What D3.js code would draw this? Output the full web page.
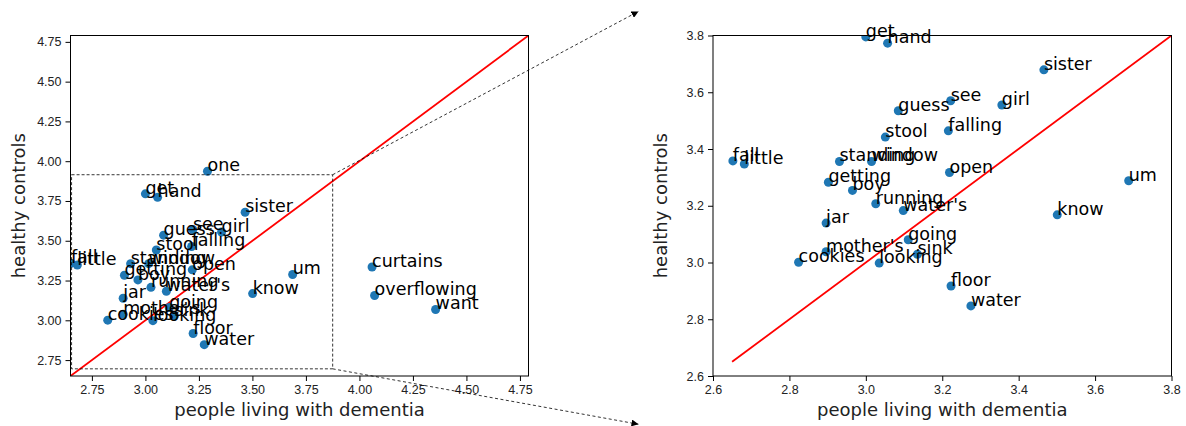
<!DOCTYPE html>
<html>
<head>
<meta charset="utf-8">
<script src="https://cdn.jsdelivr.net/npm/d3@7"></script>
<style>
	body { margin: 0; background: #fff; }
	svg { display: block; font-family: 'DejaVu Sans', sans-serif; }
	.tick text { font-size: 12.5px; fill: #222; }
</style>
</head>
<body>
<svg id="svg"></svg>
<script>
	'use strict';

	// word frequencies: people living with dementia (x) vs healthy controls (y)
	var words = ['get', 'hand', 'one', 'sister', 'see', 'girl', 'guess', 'stool', 'falling',
		'fall', 'little', 'standing', 'window', 'getting', 'boy', 'open', 'running', 'water\'s',
		'um', 'know', 'jar', 'going', 'mother\'s', 'sink', 'cookies', 'looking', 'floor', 'water',
		'curtains', 'overflowing', 'want'];
	var dementia = [3.000, 3.057, 3.290, 3.466, 3.222, 3.356, 3.085, 3.051, 3.216,
		2.652, 2.682, 2.931, 3.015, 2.902, 2.965, 3.219, 3.026, 3.098,
		3.688, 3.501, 2.896, 3.111, 2.896, 3.135, 2.824, 3.035, 3.223, 3.275,
		4.059, 4.071, 4.356];
	var controls = [3.795, 3.773, 3.937, 3.679, 3.570, 3.555, 3.535, 3.442, 3.464,
		3.358, 3.347, 3.356, 3.356, 3.283, 3.254, 3.317, 3.207, 3.183,
		3.288, 3.168, 3.139, 3.080, 3.038, 3.029, 3.001, 2.998, 2.917, 2.847,
		3.335, 3.156, 3.068];

	var leftTicks = [2.75, 3.00, 3.25, 3.50, 3.75, 4.00, 4.25, 4.50, 4.75];
	var rightTicks = [2.6, 2.8, 3.0, 3.2, 3.4, 3.6, 3.8];
	var diagonal = [2.65, 4.79];
	// zoom box drawn on the left plot and where its connectors point
	var zoomBoxX = [2.655, 3.875];
	var zoomBoxY = [2.695, 3.915];
	var arrowTipX = 2.405;
	var arrowTipY = [3.885, 2.43];

	var data = words.map(function (w, i) {
		return {word: w, x: dementia[i], y: controls[i]};
	});

	var svg = d3.select('#svg')
		.attr('width', 1186)
		.attr('height', 426);

	var defs = svg.append('defs');
	defs.append('marker')
		.attr('id', 'head')
		.attr('viewBox', '0 0 10 10')
		.attr('refX', 10)
		.attr('refY', 5)
		.attr('markerWidth', 7)
		.attr('markerHeight', 7)
		.attr('markerUnits', 'userSpaceOnUse')
		.attr('orient', 'auto')
		.append('path')
		.attr('d', 'M0,0L10,5L0,10z')
		.attr('fill', '#000');

	function drawPanel(id, box, domain, ticks, fmt) {
		var x = d3.scaleLinear().domain(domain).range([box.left, box.right]);
		var y = d3.scaleLinear().domain(domain).range([box.bottom, box.top]);

		defs.append('clipPath')
			.attr('id', 'clip-' + id)
			.append('rect')
			.attr('x', box.left)
			.attr('y', box.top)
			.attr('width', box.right - box.left)
			.attr('height', box.bottom - box.top);

		var g = svg.append('g');

		g.append('g')
			.attr('transform', 'translate(0,' + box.bottom + ')')
			.call(d3.axisBottom(x).tickValues(ticks).tickFormat(d3.format(fmt)).tickSize(5).tickPadding(4))
			.call(function (a) { a.select('.domain').remove(); });
		g.append('g')
			.attr('transform', 'translate(' + box.left + ',0)')
			.call(d3.axisLeft(y).tickValues(ticks).tickFormat(d3.format(fmt)).tickSize(5).tickPadding(4))
			.call(function (a) { a.select('.domain').remove(); });

		var plot = g.append('g').attr('clip-path', 'url(#clip-' + id + ')');

		plot.append('line')
			.attr('x1', x(diagonal[0]))
			.attr('y1', y(diagonal[0]))
			.attr('x2', x(diagonal[1]))
			.attr('y2', y(diagonal[1]))
			.attr('stroke', '#ff0000')
			.attr('stroke-width', 1.8);

		plot.selectAll('circle')
			.data(data)
			.enter()
			.append('circle')
			.attr('cx', function (d) { return x(d.x); })
			.attr('cy', function (d) { return y(d.y); })
			.attr('r', 4.5)
			.attr('fill', '#1f77b4');

		// labels are only drawn for points inside the panel, and are not clipped
		g.selectAll('text.word')
			.data(data.filter(function (d) {
				return d.x >= domain[0] && d.x <= domain[1] && d.y >= domain[0] && d.y <= domain[1];
			}))
			.enter()
			.append('text')
			.attr('class', 'word')
			.attr('x', function (d) { return x(d.x); })
			.attr('y', function (d) { return y(d.y); })
			.attr('font-size', '17.5px')
			.attr('fill', '#000')
			.text(function (d) { return d.word; });

		g.append('rect')
			.attr('x', box.left)
			.attr('y', box.top)
			.attr('width', box.right - box.left)
			.attr('height', box.bottom - box.top)
			.attr('fill', 'none')
			.attr('stroke', '#000')
			.attr('stroke-width', 1);

		g.append('text')
			.attr('x', (box.left + box.right) / 2)
			.attr('y', 416)
			.attr('text-anchor', 'middle')
			.attr('font-size', '18px')
			.attr('fill', '#222')
			.text('people living with dementia');
		g.append('text')
			.attr('transform', 'translate(' + (box.left - 46) + ',' + ((box.top + box.bottom) / 2) + ') rotate(-90)')
			.attr('text-anchor', 'middle')
			.attr('font-size', '18px')
			.attr('fill', '#222')
			.text('healthy controls');

		return {x: x, y: y};
	}

	var left = drawPanel('left', {left: 70.5, right: 528.5, top: 35.5, bottom: 376}, [2.65, 4.79], leftTicks, '.2f');
	var right = drawPanel('right', {left: 713, right: 1171.5, top: 35.5, bottom: 376}, [2.6, 3.8], rightTicks, '.1f');

	// dashed zoom box on the left panel
	svg.append('rect')
		.attr('x', left.x(zoomBoxX[0]))
		.attr('y', left.y(zoomBoxY[1]))
		.attr('width', left.x(zoomBoxX[1]) - left.x(zoomBoxX[0]))
		.attr('height', left.y(zoomBoxY[0]) - left.y(zoomBoxY[1]))
		.attr('fill', 'none')
		.attr('stroke', '#000')
		.attr('stroke-width', 0.8)
		.attr('stroke-dasharray', '3,2');

	// connectors from the zoom box corners towards the right panel
	[zoomBoxY[1], zoomBoxY[0]].forEach(function (cy, i) {
		svg.append('line')
			.attr('x1', left.x(zoomBoxX[1]))
			.attr('y1', left.y(cy))
			.attr('x2', right.x(arrowTipX))
			.attr('y2', right.y(arrowTipY[i]))
			.attr('stroke', '#000')
			.attr('stroke-width', 0.8)
			.attr('stroke-dasharray', '3,2.5')
			.attr('marker-end', 'url(#head)');
	});
</script>
</body>
</html>
